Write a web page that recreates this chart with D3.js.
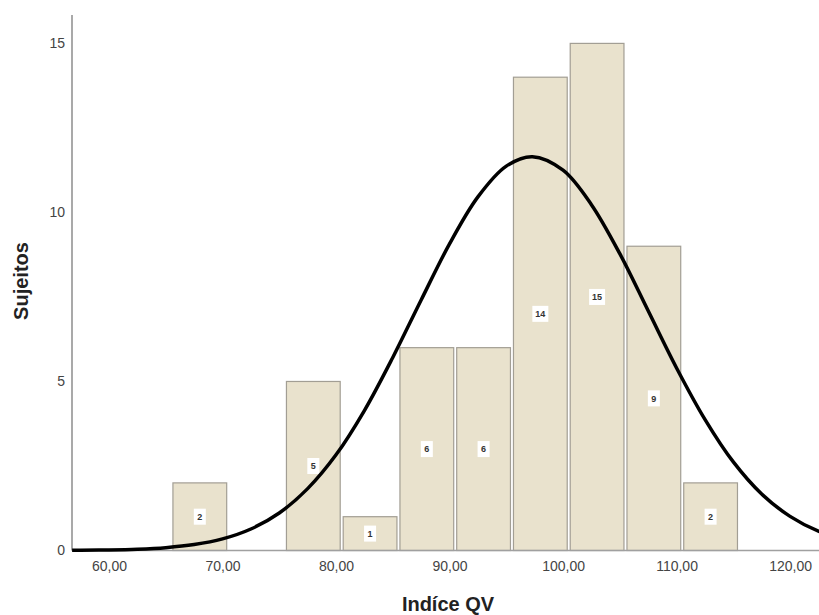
<!DOCTYPE html>
<html>
<head>
<meta charset="utf-8">
<script src="https://cdn.jsdelivr.net/npm/d3@7"></script>
<style>
  body { margin: 0; background: #fff; }
  svg { display: block; font-family: "Liberation Sans", Arial, sans-serif; }
</style>
</head>
<body>
<svg id="chart" width="819" height="615"></svg>
<script>
'use strict';

// Histogram bins (lower edge, width 5) and counts
const binStarts = [65.5, 75.5, 80.5, 85.5, 90.5, 95.5, 100.5, 105.5, 110.5];
const counts = [2, 5, 1, 6, 6, 14, 15, 9, 2];
const binWidth = 5;

// Normal curve
const curveX = [56.75, 57.5, 60, 62.5, 65, 67.5, 70, 72.5, 75, 77.5, 80, 82.5, 85, 87.5, 90, 92.5, 95,
    97.3, 100, 102.5, 105, 107.5, 110, 112.5, 115, 117.5, 120, 122.5, 125];
const curveY = [0.005, 0.007, 0.016, 0.038, 0.084, 0.175, 0.343, 0.636, 1.11, 1.83, 2.83, 4.14, 5.71,
    7.41, 9.07, 10.46, 11.37, 11.65, 11.25, 10.23, 8.78, 7.09, 5.40, 3.88, 2.62, 1.67, 1.01, 0.57, 0.30];

const xTicks = [60, 70, 80, 90, 100, 110, 120];
const yTicks = [0, 5, 10, 15];

const svg = d3.select('#chart');
const x = d3.scaleLinear().domain([56.74, 122.55]).range([72, 819]);
const y = d3.scaleLinear().domain([0, 15.84]).range([550.5, 15]);

svg.append('defs').append('clipPath').attr('id', 'plotClip')
    .append('rect').attr('x', 72).attr('y', 0).attr('width', 747).attr('height', 560);

// Bars
const bars = svg.append('g');
bars.selectAll('rect')
    .data(counts)
    .enter()
    .append('rect')
    .attr('x', (_, i) => x(binStarts[i]) + 1.5)
    .attr('y', d => y(d))
    .attr('width', (_, i) => x(binStarts[i] + binWidth) - x(binStarts[i]) - 3)
    .attr('height', d => y(0) - y(d))
    .attr('fill', '#e9e2cd')
    .attr('stroke', '#a29e94')
    .attr('stroke-width', 1.2);

// Count labels in white boxes
const labels = svg.append('g').selectAll('g')
    .data(counts)
    .enter()
    .append('g')
    .attr('transform', (d, i) => `translate(${x(binStarts[i] + binWidth / 2)},${(y(d) + y(0)) / 2})`);
labels.append('rect')
    .attr('x', d => d >= 10 ? -8 : -6)
    .attr('y', -8)
    .attr('width', d => d >= 10 ? 16 : 12)
    .attr('height', 16)
    .attr('fill', '#fff');
labels.append('text')
    .attr('text-anchor', 'middle')
    .attr('dy', '0.35em')
    .attr('font-size', 9)
    .attr('font-weight', 'bold')
    .attr('fill', '#333')
    .text(d => d);

// Axis lines
svg.append('line')
    .attr('x1', 72).attr('x2', 72).attr('y1', y.range()[1]).attr('y2', y(0))
    .attr('stroke', '#a0a0a0').attr('stroke-width', 1.8);
svg.append('line')
    .attr('x1', 72).attr('x2', 819).attr('y1', y(0)).attr('y2', y(0))
    .attr('stroke', '#a0a0a0').attr('stroke-width', 1.5);

// Normal curve
const line = d3.line()
    .x(d => x(d[0]))
    .y(d => y(d[1]))
    .curve(d3.curveCatmullRom);
svg.append('path')
    .datum(curveX.map((v, i) => [v, curveY[i]]))
    .attr('clip-path', 'url(#plotClip)')
    .attr('d', line)
    .attr('fill', 'none')
    .attr('stroke', '#000')
    .attr('stroke-width', 3.5);

// Tick labels
const xAxis = svg.append('g')
    .attr('transform', `translate(0,${y(0) + 8})`)
    .call(d3.axisBottom(x).tickValues(xTicks).tickSize(0)
        .tickFormat(d => d.toFixed(2).replace('.', ',')));
xAxis.select('.domain').remove();
xAxis.selectAll('text')
    .attr('font-size', 14)
    .attr('font-family', '"Liberation Sans", Arial, sans-serif')
    .attr('fill', '#444');

const yAxis = svg.append('g')
    .attr('transform', 'translate(65,0)')
    .call(d3.axisLeft(y).tickValues(yTicks).tickSize(0).tickPadding(0));
yAxis.select('.domain').remove();
yAxis.selectAll('text')
    .attr('font-size', 14)
    .attr('font-family', '"Liberation Sans", Arial, sans-serif')
    .attr('fill', '#444');

// Axis titles
svg.append('text')
    .attr('x', 448)
    .attr('y', 611)
    .attr('text-anchor', 'middle')
    .attr('font-size', 20)
    .attr('font-weight', 'bold')
    .attr('fill', '#222')
    .text('Indíce QV');

svg.append('text')
    .attr('transform', 'translate(28,281) rotate(-90)')
    .attr('text-anchor', 'middle')
    .attr('font-size', 20)
    .attr('font-weight', 'bold')
    .attr('fill', '#222')
    .text('Sujeitos');
</script>
</body>
</html>
